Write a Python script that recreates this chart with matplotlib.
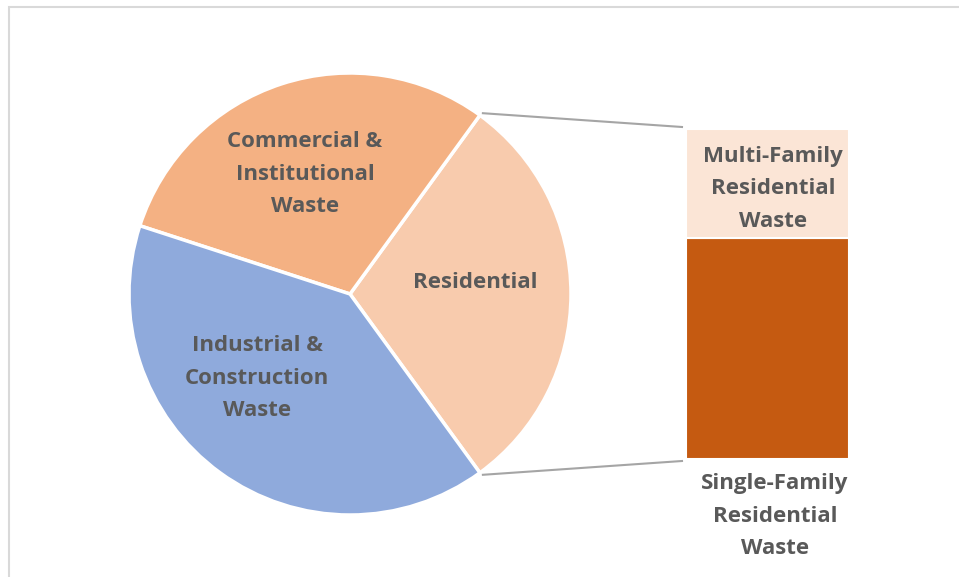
import numpy as np
import matplotlib
matplotlib.use("Agg")
import matplotlib.pyplot as plt
from matplotlib.patches import Rectangle

# ---- data ----
pie_labels = ["Residential", "Commercial &\nInstitutional\nWaste", "Industrial &\nConstruction\nWaste"]
pie_values = [30, 30, 40]
pie_colors = ["#F8CBAD", "#F4B183", "#8FAADC"]

bar_labels = ["Single-Family\nResidential\nWaste", "Multi-Family\nResidential\nWaste"]
bar_values = [67, 33]
bar_colors = ["#C55A11", "#FBE5D6"]

TXT = "#595959"
FONT = "Open Sans"
FS = 16
LS = 1.73

W, H = 959, 577
fig = plt.figure(figsize=(W / 100, H / 100), dpi=100)
ax = fig.add_axes([0, 0, 1, 1])

# frame border (only top/left visible)
ax.add_patch(Rectangle((8.5, -20), 2000, H - 6.5 + 20, fill=False,
                       edgecolor="#D9D9D9", linewidth=1.5))

cx, cy, r = 350, 577 - 294, 221
start = -0.5 * pie_values[0] / 100 * 360
wedges, _ = ax.pie(pie_values, colors=pie_colors, startangle=start,
                   counterclock=True, center=(cx, cy), radius=r,
                   wedgeprops=dict(edgecolor="white", linewidth=2.5),
                   frame=True)
ax.set_xlim(0, W)
ax.set_ylim(0, H)
ax.set_aspect("equal")
ax.axis("off")

label_pos = [(475, 282), (305, 174), (257, 378)]
for lab, (x, y) in zip(pie_labels, label_pos):
    ax.text(x, 577 - y, lab, ha="center", va="center", color=TXT,
            fontsize=FS, fontweight="bold", family=FONT, linespacing=LS)

# bar of pie
bx0, bx1 = 686, 849
by0, by1 = 577 - 459, 577 - 129
bax = fig.add_axes([bx0 / W, by0 / H, (bx1 - bx0) / W, (by1 - by0) / H])
bax.set_xlim(-0.5, 0.5)
bax.set_ylim(0, sum(bar_values))
bax.axis("off")
bottom = 0
for v, c in zip(bar_values, bar_colors):
    bax.bar(0, v, bottom=bottom, width=1.0, color=c, edgecolor="white", linewidth=1.5)
    bottom += v

# connector lines from residential wedge edges
a1 = np.deg2rad(start + pie_values[0] / 100 * 360)
a0 = np.deg2rad(start)
p_top = (cx + r * np.cos(a1) + 3, cy + r * np.sin(a1) + 2)
p_bot = (cx + r * np.cos(a0) + 3, cy + r * np.sin(a0) - 2)
ax.plot([p_top[0], bx0 - 4], [p_top[1], 577 - 127], color="#A5A5A5", lw=1.5)
ax.plot([p_bot[0], bx0 - 4], [p_bot[1], 577 - 461], color="#A5A5A5", lw=1.5)

fig.text(773 / W, (577 - 189) / H, bar_labels[1], ha="center", va="center", color=TXT,
         fontsize=FS, fontweight="bold", family=FONT, linespacing=LS, zorder=10)
fig.text(775 / W, (577 - 516) / H, bar_labels[0], ha="center", va="center", color=TXT,
         fontsize=FS, fontweight="bold", family=FONT, linespacing=LS, zorder=10)

fig.savefig("out.png", dpi=100)
